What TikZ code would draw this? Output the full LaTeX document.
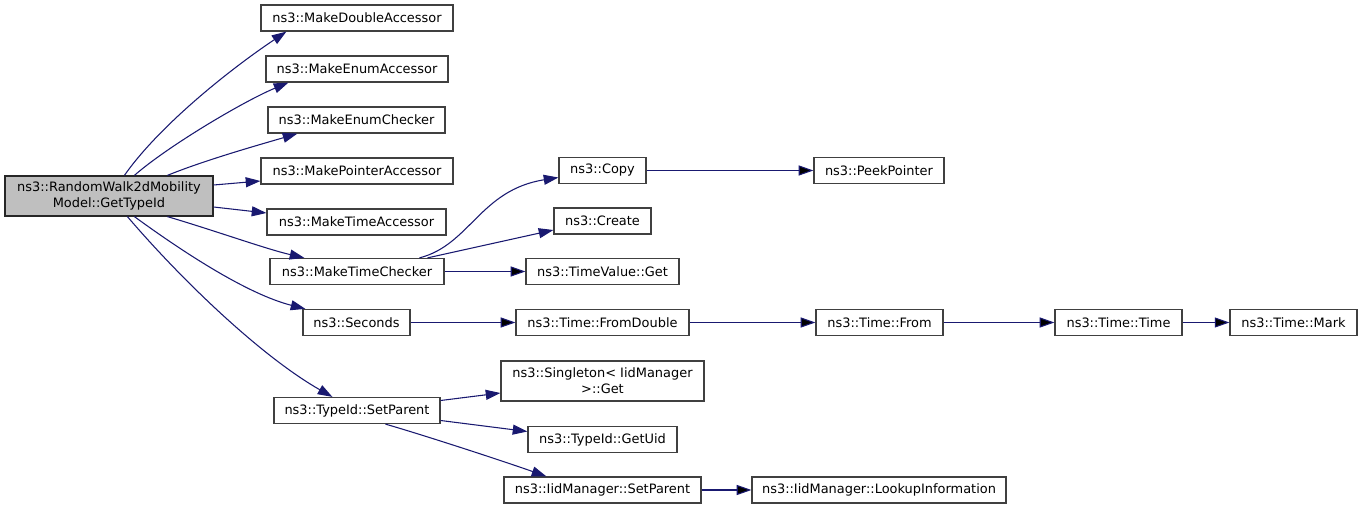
\documentclass[tikz,border=0pt]{standalone}
\usepackage{fontspec}
\setmainfont{DejaVu Sans}
\usetikzlibrary{arrows.meta,calc}
\definecolor{edgeblue}{HTML}{191970}
\definecolor{boxline}{HTML}{404040}
\definecolor{rootgray}{HTML}{BFBFBF}

\begin{document}
\begin{tikzpicture}[x=0.75pt,y=-0.75pt,>={Triangle[length=11pt,width=7.5pt]},
  fn/.style={draw=boxline,line width=0.9pt,fill=white,inner sep=0pt,minimum height=19.5pt,font=\fontsize{9.7}{12}\selectfont},
  twoline/.style={fn,minimum height=30pt,align=center},
  rootfn/.style={twoline,fill=rootgray,draw=black!85},
  call/.style={->,draw=edgeblue,line width=0.8pt}]

\useasboundingbox (0,0) rectangle (1363,509);

% caller
\node[rootfn,minimum width=156pt]   (root)   at (109,196)    {ns3::RandomWalk2dMobility\\Model::GetTypeId};

% first level
\node[fn,minimum width=144pt]    (mda)    at (357,18)     {ns3::MakeDoubleAccessor};
\node[fn,minimum width=136.5pt]  (mea)    at (357,69)     {ns3::MakeEnumAccessor};
\node[fn,minimum width=132.75pt] (mec)    at (356.5,120)  {ns3::MakeEnumChecker};
\node[fn,minimum width=144pt]    (mpa)    at (357,171)    {ns3::MakePointerAccessor};
\node[fn,minimum width=134.25pt] (mta)    at (356.5,222)  {ns3::MakeTimeAccessor};
\node[fn,minimum width=130.5pt]  (mtc)    at (357,271.5)  {ns3::MakeTimeChecker};
\node[fn,minimum width=80.25pt]  (sec)    at (356.5,322.5) {ns3::Seconds};
\node[fn,minimum width=124.5pt]  (tsp)    at (357,410.5)  {ns3::TypeId::SetParent};

% second level
\node[fn,minimum width=65.25pt]  (copy)   at (602.5,170.5) {ns3::Copy};
\node[fn,minimum width=72.75pt]  (create) at (602.5,221)  {ns3::Create};
\node[fn,minimum width=114.75pt] (tvg)    at (602.5,271.5) {ns3::TimeValue::Get};
\node[fn,minimum width=129.75pt] (fromd)  at (602.5,322.5) {ns3::Time::FromDouble};
\node[twoline,minimum width=152.25pt] (single) at (602.5,381) {ns3::Singleton< IidManager\\ >::Get};
\node[fn,minimum width=111.75pt] (uid)    at (602.5,439.5) {ns3::TypeId::GetUid};
\node[fn,minimum width=147.75pt] (isp)    at (602.5,490)  {ns3::IidManager::SetParent};

% further levels
\node[fn,minimum width=97.5pt]   (peek)   at (879,170.5)  {ns3::PeekPointer};
\node[fn,minimum width=95.25pt]  (from)   at (879.5,322.5) {ns3::Time::From};
\node[fn,minimum width=190.5pt]  (lookup) at (879,490)    {ns3::IidManager::LookupInformation};
\node[fn,minimum width=95.25pt]  (time)   at (1118.5,322.5) {ns3::Time::Time};
\node[fn,minimum width=95.25pt]  (mark)   at (1293.5,322.5) {ns3::Time::Mark};

% calls out of the caller
\draw[call] ($(root.north west)+(120,0)$) .. controls (159,126) and (229,70) .. ($(mda.south west)+(26,0)$);
\draw[call] ($(root.north west)+(130,0)$) .. controls (168,146) and (244,101) .. ($(mea.south west)+(23,0)$);
\draw[call] ($(root.north west)+(163,0)$) .. controls (205,160) and (262,144) .. ($(mec.south west)+(30,0)$);
\draw[call] ($(root.east)+(0,-11)$) -- ($(mpa.west)+(0,10)$);
\draw[call] ($(root.east)+(0,11)$) -- ($(mta.west)+(0,-9)$);
\draw[call] ($(root.south west)+(163,0)$) .. controls (216,231) and (266,249) .. ($(mtc.north west)+(35,0)$);
\draw[call] ($(root.south west)+(130,0)$) .. controls (183,252) and (247,294) .. ($(sec.north west)+(3,0)$);
\draw[call] ($(root.south west)+(123,0)$) .. controls (186,285) and (264,358) .. ($(tsp.north west)+(59,0)$);

% MakeTimeChecker
\draw[call] ($(mtc.north west)+(150,0)$) .. controls (470,245) and (480,190) .. ($(copy.west)+(0,7)$);
\draw[call] ($(mtc.north west)+(158,0)$) -- ($(create.west)+(0,9)$);
\path[call] (mtc) edge (tvg);

% TypeId::SetParent
\draw[call] ($(tsp.east)+(0,-10)$) -- ($(single.west)+(0,12)$);
\draw[call] ($(tsp.east)+(0,10)$) -- ($(uid.west)+(0,-8)$);
\draw[call] ($(tsp.south west)+(112,0)$) .. controls (420,434) and (500,460) .. ($(isp.north west)+(43,0)$);

% straight chains
\path[call] (copy)  edge (peek)
            (sec)   edge (fromd)
            (fromd) edge (from)
            (from)  edge (time)
            (time)  edge (mark)
            (isp)   edge (lookup);

\end{tikzpicture}
\end{document}
